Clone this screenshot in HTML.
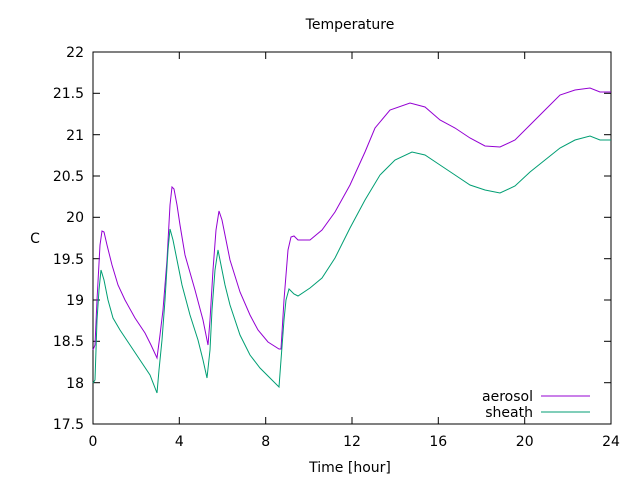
<!DOCTYPE html><html><head><style>body{margin:0;background:#fff}svg{display:block}text{font-family:"DejaVu Sans","Liberation Sans",sans-serif;font-size:14px;fill:#000}</style></head><body>
<svg width="640" height="480" xmlns="http://www.w3.org/2000/svg">
<rect x="93" y="52" width="518" height="372" fill="none" stroke="#000" stroke-width="1"/>
<g stroke="#000" stroke-width="1">
<line x1="93" y1="52" x2="100" y2="52"/><line x1="93" y1="93.3" x2="100" y2="93.3"/><line x1="93" y1="134.7" x2="100" y2="134.7"/><line x1="93" y1="176" x2="100" y2="176"/><line x1="93" y1="217.3" x2="100" y2="217.3"/><line x1="93" y1="258.7" x2="100" y2="258.7"/><line x1="93" y1="300" x2="100" y2="300"/><line x1="93" y1="341.3" x2="100" y2="341.3"/><line x1="93" y1="382.7" x2="100" y2="382.7"/>
<line x1="611" y1="52" x2="604" y2="52"/><line x1="611" y1="93.3" x2="604" y2="93.3"/><line x1="611" y1="134.7" x2="604" y2="134.7"/><line x1="611" y1="176" x2="604" y2="176"/><line x1="611" y1="217.3" x2="604" y2="217.3"/><line x1="611" y1="258.7" x2="604" y2="258.7"/><line x1="611" y1="300" x2="604" y2="300"/><line x1="611" y1="341.3" x2="604" y2="341.3"/><line x1="611" y1="382.7" x2="604" y2="382.7"/>
<line x1="179.3" y1="424" x2="179.3" y2="417"/><line x1="265.7" y1="424" x2="265.7" y2="417"/><line x1="352" y1="424" x2="352" y2="417"/><line x1="438.3" y1="424" x2="438.3" y2="417"/><line x1="524.7" y1="424" x2="524.7" y2="417"/>
<line x1="179.3" y1="52" x2="179.3" y2="59"/><line x1="265.7" y1="52" x2="265.7" y2="59"/><line x1="352" y1="52" x2="352" y2="59"/><line x1="438.3" y1="52" x2="438.3" y2="59"/><line x1="524.7" y1="52" x2="524.7" y2="59"/>
</g>
<g text-anchor="end">
<text x="84" y="57">22</text><text x="84" y="98">21.5</text><text x="84" y="140">21</text><text x="84" y="181">20.5</text><text x="84" y="222">20</text><text x="84" y="264">19.5</text><text x="84" y="305">19</text><text x="84" y="346">18.5</text><text x="84" y="388">18</text><text x="84" y="429">17.5</text>
</g>
<g text-anchor="middle">
<text x="93" y="446">0</text><text x="179.3" y="446">4</text><text x="265.7" y="446">8</text><text x="352" y="446">12</text><text x="438.3" y="446">16</text><text x="524.7" y="446">20</text><text x="611" y="446">24</text>
<text x="350" y="472">Time [hour]</text><text x="350" y="29">Temperature</text>
<text x="35" y="243">C</text>
</g>
<polyline fill="none" stroke="#9400d3" stroke-width="1" points="93,350 95,345 97,300 100,245 102,231 104,232 107,245 112,265 118,285 125,300 135,318 145,333 151,345 157,358 160,335 163,310 167,260 170,205 172,187 174,189 177,205 180,225 185,255 195,290 203,320 208,345 210,320 213,270 216,230 219,211 222,220 226,240 230,260 240,292 250,315 258,330 268,342 279,349 281,349 284,300 288,250 291,237 294,236 298,240 310,240 322,230 335,212 350,185 365,152 375,128 390,110 410,103 425,107 440,120 455,128 470,138 485,146 500,147 515,140 530,125 545,110 560,95 575,90 590,88 600,92 611,92"/>
<polyline fill="none" stroke="#009e73" stroke-width="1" points="93,383 95,380 97,320 99,290 101,270 104,280 108,300 113,318 120,330 130,345 140,360 150,375 157,393 159,370 162,340 165,300 168,250 170,229 173,240 177,260 182,285 190,315 198,340 203,360 207,378 210,350 212,310 215,270 218,250 221,265 225,285 230,305 240,335 250,355 260,368 270,378 279,387 281,360 284,320 286,300 289,289 294,294 298,296 310,288 322,278 335,258 350,228 365,200 380,175 395,160 412,152 425,155 440,165 455,175 470,185 485,190 500,193 515,186 530,172 545,160 560,148 575,140 590,136 600,140 611,140"/>
<text x="533" y="401" text-anchor="end">aerosol</text>
<line x1="541" y1="396" x2="590" y2="396" stroke="#9400d3"/>
<text x="533" y="417" text-anchor="end">sheath</text>
<line x1="541" y1="412" x2="590" y2="412" stroke="#009e73"/>
</svg></body></html>
